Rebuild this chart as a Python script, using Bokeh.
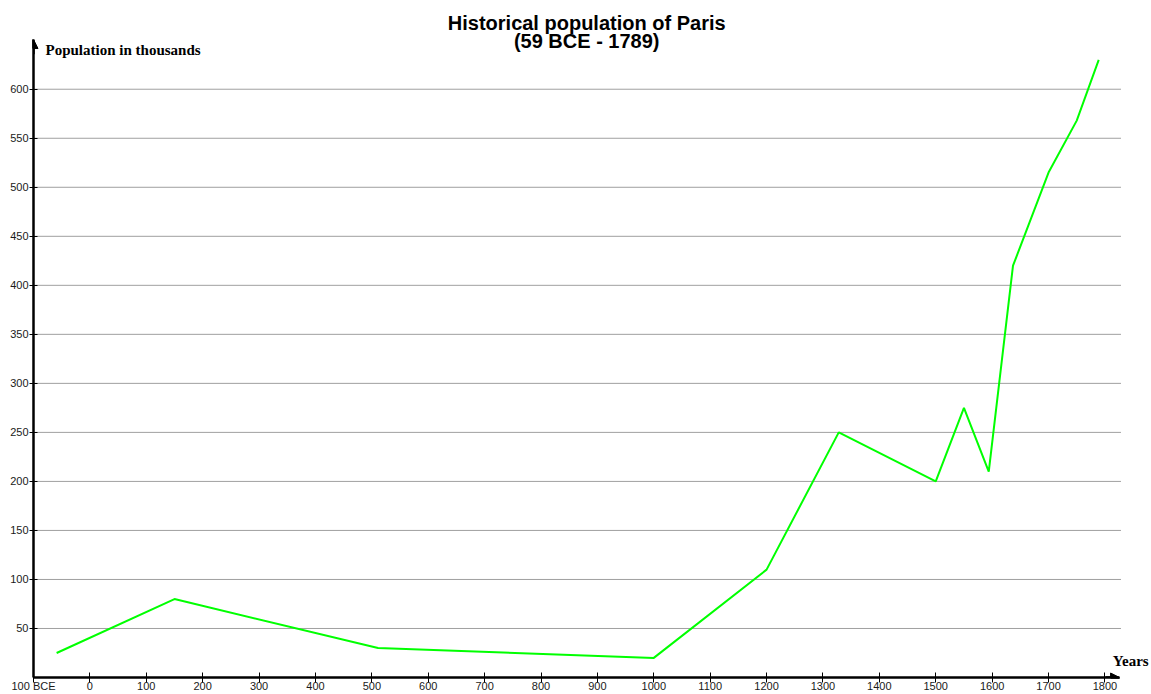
from bokeh.plotting import figure
from bokeh.models import FixedTicker, Arrow, NormalHead, Label, Range1d
from bokeh.embed import file_html
from bokeh.resources import INLINE

# ---- data ----
years = [-59, 150, 511, 1000, 1200, 1328, 1500, 1550, 1594, 1637, 1700, 1750, 1789]
population = [25, 80, 30, 20, 110, 250, 200, 275, 210, 420, 515, 568, 630]

x_ticks = [-100, 0, 100, 200, 300, 400, 500, 600, 700, 800, 900,
           1000, 1100, 1200, 1300, 1400, 1500, 1600, 1700, 1800]
x_tick_labels = ["100 BCE", "0", "100", "200", "300", "400", "500", "600", "700", "800", "900",
                 "1000", "1100", "1200", "1300", "1400", "1500", "1600", "1700", "1800"]
y_ticks = [50, 100, 150, 200, 250, 300, 350, 400, 450, 500, 550, 600]

title_line1 = "Historical population of Paris"
title_line2 = "(59 BCE - 1789)"
y_label = "Population in thousands"
x_label = "Years"

X_START, X_END = -100, 1882.6
Y_START, Y_END = 0, 690.5
X_AXIS_END = 1826       # arrow tip of the x axis
Y_AXIS_END = 650.7      # arrow tip of the y axis
GRID_END = 1827.6

p = figure(width=1151, height=694, output_backend="svg", toolbar_location=None,
           title=None,
           x_range=Range1d(X_START, X_END), y_range=Range1d(Y_START, Y_END),
           min_border_left=33, min_border_right=0, min_border_top=0, min_border_bottom=14,
           outline_line_color=None, background_fill_color="white", border_fill_color="white")

# dotted horizontal grid lines (stop short of the right edge, as in the reference)
p.xgrid.visible = False
p.ygrid.visible = False
p.segment(x0=[X_START] * len(y_ticks), x1=[GRID_END] * len(y_ticks), y0=y_ticks, y1=y_ticks,
          line_color="#404040", line_dash="1 1", line_width=1)

# axes
tick_font = "Liberation Sans"
xa = p.xaxis[0]
xa.ticker = FixedTicker(ticks=x_ticks)
xa.major_label_overrides = {t: l for t, l in zip(x_ticks, x_tick_labels)}
xa.bounds = (X_START, X_AXIS_END)
xa.axis_line_width = 2.5
xa.axis_line_color = "black"
xa.major_tick_in = 5
xa.major_tick_out = 5
xa.major_tick_line_color = "black"
xa.minor_tick_line_color = None
xa.major_label_standoff = -3
xa.major_label_text_font = tick_font
xa.major_label_text_font_size = "11px"
xa.major_label_text_color = "#1a1a1a"

ya = p.yaxis[0]
ya.ticker = FixedTicker(ticks=y_ticks)
ya.bounds = (0, Y_AXIS_END)
ya.axis_line_width = 2.5
ya.axis_line_color = "black"
ya.major_tick_in = 4
ya.major_tick_out = 4
ya.major_tick_line_color = "black"
ya.minor_tick_line_color = None
ya.major_label_standoff = 1
ya.major_label_text_font = tick_font
ya.major_label_text_font_size = "11px"
ya.major_label_text_color = "#1a1a1a"

# arrow heads on the axes
p.add_layout(Arrow(end=NormalHead(size=9, fill_color="black", line_color="black"),
                   x_start=X_START, y_start=Y_AXIS_END - 15, x_end=X_START, y_end=Y_AXIS_END,
                   line_width=2.5, line_color="black"))
p.add_layout(Arrow(end=NormalHead(size=9, fill_color="black", line_color="black"),
                   x_start=X_AXIS_END - 25, y_start=0, x_end=X_AXIS_END, y_end=0,
                   line_width=2.5, line_color="black"))

# data line
p.line(years, population, line_color="#00ff00", line_width=2)

# titles / axis labels
p.add_layout(Label(x=881, y=667.5, text=title_line1, text_align="center", text_baseline="middle",
                   text_font="Liberation Sans", text_font_style="bold", text_font_size="20px",
                   text_color="black"))
p.add_layout(Label(x=881, y=649.7, text=title_line2, text_align="center", text_baseline="middle",
                   text_font="Liberation Sans", text_font_style="bold", text_font_size="20px",
                   text_color="black"))
p.add_layout(Label(x=-78.7, y=640.5, text=y_label, text_align="left", text_baseline="middle",
                   text_font="Liberation Serif", text_font_style="bold", text_font_size="15px",
                   text_color="black"))
p.add_layout(Label(x=1814, y=17.3, text=x_label, text_align="left", text_baseline="middle",
                   text_font="Liberation Serif", text_font_style="bold", text_font_size="15px",
                   text_color="black"))

open("out.html", "w").write(file_html(p, INLINE))
